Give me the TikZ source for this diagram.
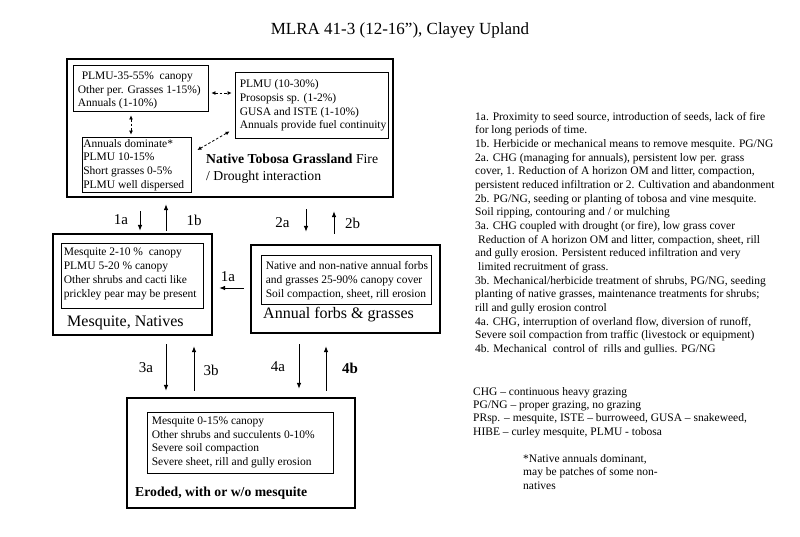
\documentclass[tikz,border=0pt]{standalone}
\usepackage{fontspec}
\setmainfont{Liberation Serif}
\usetikzlibrary{arrows.meta,calc}
\begin{document}
\begin{tikzpicture}[x=1pt,y=-1pt,
  obox/.style={draw,line width=2.2pt,inner sep=0pt},
  ibox/.style={draw,line width=0.8pt,inner sep=0pt},
  txt/.style={inner sep=0pt,align=left,anchor=west,font=\fontsize{11.5}{13.8}\selectfont},
  big/.style={inner sep=0pt,anchor=west,font=\fontsize{16}{19}\selectfont},
  bld/.style={inner sep=0pt,anchor=west,font=\fontsize{13.7}{17}\selectfont\bfseries},
  lab/.style={inner sep=0pt,font=\fontsize{15}{18}\selectfont},
  tr/.style={line width=0.9pt,-{Latex[length=6pt,width=4.5pt]}},
  dar/.style={line width=0.8pt,dash pattern=on 2.5pt off 2pt,{Latex[length=4pt,width=4pt]}-{Latex[length=4pt,width=4pt]}},
  notes/.style={inner sep=0pt,align=left,anchor=north west,font=\fontsize{11.5}{13.65}\selectfont}
]
\path[fill=white] (0,0) rectangle (800,536);
\useasboundingbox (0,0) rectangle (800,536);

% title
\node[inner sep=0pt,font=\fontsize{17}{20}\selectfont] (title) at (400,30) {MLRA 41-3 (12-16”), Clayey Upland};

% Native Tobosa Grassland
\node[obox,minimum width=326pt,minimum height=138pt] (nat) at (230,128) {};
\node[ibox,minimum width=135pt,minimum height=46pt] (b1) at (140.5,88) {};
\node[ibox,minimum width=153pt,minimum height=66pt] (b2) at (311.5,105) {};
\node[ibox,minimum width=109pt,minimum height=55pt] (b3) at (136.5,164.5) {};
\node[txt] (t1) at ($(b1.west)+(5,2.5)$) {\hspace*{4pt}PLMU-35-55\%\ \ canopy\\Other per. Grasses 1-15\%)\\Annuals (1-10\%)};
\node[txt] (t2) at ($(b2.west)+(5,0.5)$) {PLMU (10-30\%)\\Prosopsis sp. (1-2\%)\\GUSA and ISTE (1-10\%)\\Annuals provide fuel continuity};
\node[txt] (t3) at ($(b3.west)+(1.5,0.5)$) {Annuals dominate*\\PLMU 10-15\%\\Short grasses 0-5\%\\PLMU well dispersed};
\node[inner sep=0pt,anchor=west,align=left,font=\fontsize{13.7}{16.7}\selectfont] (natl) at (206,168.5) {\textbf{Native Tobosa Grassland} Fire\\/ Drought interaction};
\draw[dar] ($(b1.east)+(3,5)$) -- ($(b1.east -| b2.west)+(-3,5)$);
\draw[dar] ($(b1.south)+(-9.5,4)$) -- ($(b3.north)+(-5.5,-2)$);
\draw[dar] ($(b3.east)+(6,-14.5)$) -- ($(b2.south west)+(-5,-7)$);

% Mesquite, Natives
\node[obox,minimum width=159pt,minimum height=101pt] (mes) at (132.5,284.5) {};
\node[ibox,minimum width=142pt,minimum height=65pt] (mesi) at (132,275.5) {};
\node[txt] (mest) at ($(mesi.west)+(3,-1.5)$) {Mesquite 2-10 \%\ \ canopy\\PLMU 5-20 \% canopy\\Other shrubs and cacti like\\prickley pear may be present};
\node[big] (mesl) at (67,323) {Mesquite, Natives};

% Annual forbs & grasses
\node[obox,minimum width=189pt,minimum height=88pt] (ann) at (345.5,289) {};
\node[ibox,minimum width=170pt,minimum height=49pt] (anni) at (346,279.5) {};
\node[txt] (annt) at ($(anni.west)+(5,1)$) {Native and non-native annual forbs\\and grasses 25-90\% canopy cover\\Soil compaction, sheet, rill erosion};
\node[big] (annl) at (263,315) {Annual forbs \& grasses};

% Eroded
\node[obox,minimum width=228pt,minimum height=110pt] (ero) at (241,453) {};
\node[ibox,minimum width=186pt,minimum height=61pt] (eroi) at (240,442.5) {};
\node[txt] (erot) at ($(eroi.west)+(5,0)$) {Mesquite 0-15\% canopy\\Other shrubs and succulents 0-10\%\\Severe soil compaction\\Severe sheet, rill and gully erosion};
\node[bld] (erol) at (135,493) {Eroded, with or w/o mesquite};

% transitions
\draw[tr] ($(nat.south)+(-90,13)$) -- ($(mes.north)+(7.5,-2)$);
\draw[tr] ($(mes.north)+(33.5,-2)$) -- ($(nat.south)+(-64,6)$);
\draw[tr] ($(nat.south)+(76,11)$) -- ($(ann.north)+(-39.5,-12)$);
\draw[tr] ($(ann.north)+(-11.5,-10)$) -- ($(nat.south)+(104,13)$);
\draw[tr] ($(ann.west)+(-6,-1)$) -- ($(mes.east)+(6,3.5)$);
\draw[tr] ($(mes.south)+(33.5,8)$) -- ($(ero.north)+(-75,-6)$);
\draw[tr] ($(ero.north)+(-47,-6)$) -- ($(mes.south)+(61.5,10)$);
\draw[tr] ($(ann.south)+(-46.5,10)$) -- ($(ero.north)+(58,-8)$);
\draw[tr] ($(ero.north)+(85,-6)$) -- ($(ann.south)+(-19.5,12)$);

\node[lab] (l1a) at (121,220) {1a};
\node[lab] (l1b) at (194,220) {1b};
\node[lab] (l2a) at (282.5,223) {2a};
\node[lab] (l2b) at (352.5,223) {2b};
\node[lab] (l1c) at (228,277) {1a};
\node[lab] (l3a) at (146,368) {3a};
\node[lab] (l3b) at (211,370) {3b};
\node[lab] (l4a) at (278,367) {4a};
\node[lab,font=\fontsize{15}{18}\selectfont\bfseries] (l4b) at (350,368) {4b};

% notes
\node[notes] (desc) at (475,112) {1a. Proximity to seed source, introduction of seeds, lack of fire\\
for long periods of time.\\
1b. Herbicide or mechanical means to remove mesquite. PG/NG\\
2a. CHG (managing for annuals), persistent low per. grass\\
cover, 1. Reduction of A horizon OM and litter, compaction,\\
persistent reduced infiltration or 2. Cultivation and abandonment\\
2b. PG/NG, seeding or planting of tobosa and vine mesquite.\\
Soil ripping, contouring and / or mulching\\
3a. CHG coupled with drought (or fire), low grass cover\\
\hspace*{3pt}Reduction of A horizon OM and litter, compaction, sheet, rill\\
and gully erosion. Persistent reduced infiltration and very\\
\hspace*{3pt}limited recruitment of grass.\\
3b. Mechanical/herbicide treatment of shrubs, PG/NG, seeding\\
planting of native grasses, maintenance treatments for shrubs;\\
rill and gully erosion control\\
4a. CHG, interruption of overland flow, diversion of runoff,\\
Severe soil compaction from traffic (livestock or equipment)\\
4b. Mechanical\ \ control of\ \ rills and gullies. PG/NG};

\node[notes,font=\fontsize{11.5}{13.4}\selectfont] (legend) at (473,387) {CHG – continuous heavy grazing\\
PG/NG – proper grazing, no grazing\\
PRsp. – mesquite, ISTE – burroweed, GUSA – snakeweed,\\
HIBE – curley mesquite, PLMU - tobosa};

\node[notes,font=\fontsize{11.5}{13.5}\selectfont] (foot) at (523,454) {*Native annuals dominant,\\
may be patches of some non-\\
natives};
\end{tikzpicture}
\end{document}
